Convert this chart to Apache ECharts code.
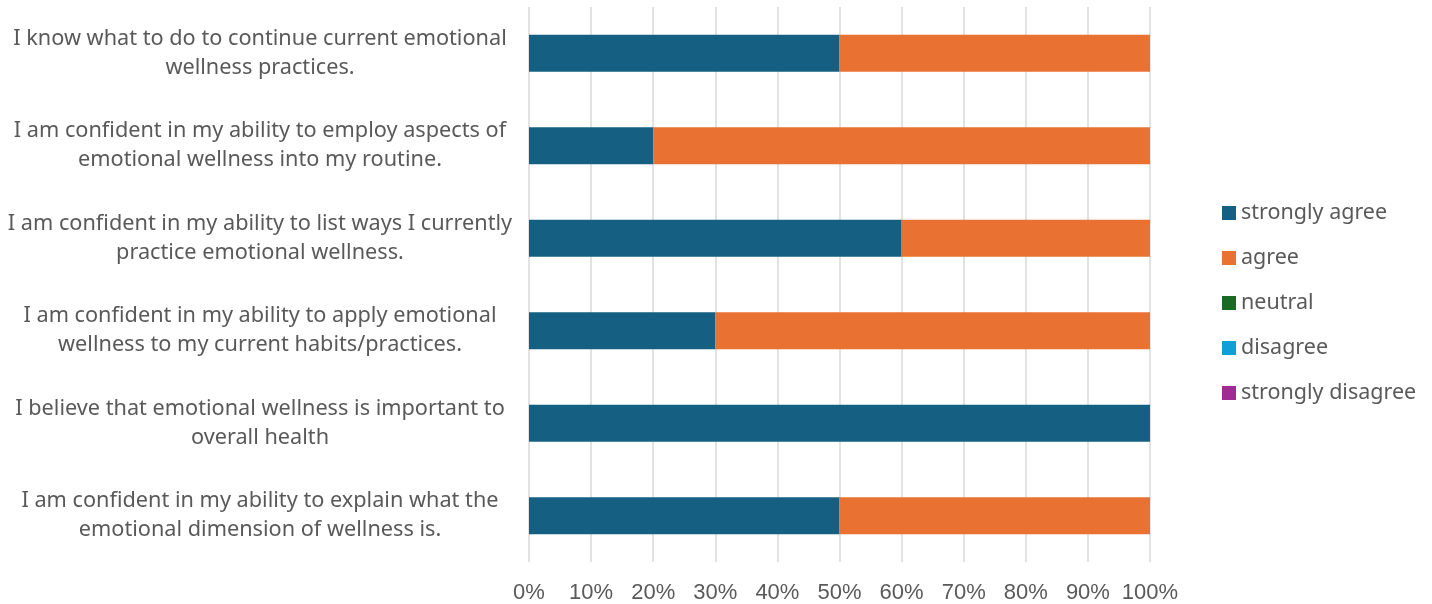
<!DOCTYPE html>
<html>
<head>
<meta charset="utf-8">
<script src="https://cdn.jsdelivr.net/npm/echarts@6/dist/echarts.min.js"></script>
<style>
  html, body { margin: 0; padding: 0; background: #fff; }
  #chart { width: 1432px; height: 604px; }
</style>
</head>
<body>
<div id="chart"></div>
<script>
// Statements, listed top to bottom
const statements = [
  'I know what to do to continue current emotional\nwellness practices.',
  'I am confident in my ability to employ aspects of\nemotional wellness into my routine.',
  'I am confident in my ability to list ways I currently\npractice emotional wellness.',
  'I am confident in my ability to apply emotional\nwellness to my current habits/practices.',
  'I believe that emotional wellness is important to\noverall health',
  'I am confident in my ability to explain what the\nemotional dimension of wellness is.'
];

// Share of responses per statement (percent)
const stronglyAgree    = [50, 20, 60, 30, 100, 50];
const agree            = [50, 80, 40, 70, 0, 50];
const neutral          = [0, 0, 0, 0, 0, 0];
const disagree         = [0, 0, 0, 0, 0, 0];
const stronglyDisagree = [0, 0, 0, 0, 0, 0];

const responseNames = ['strongly agree', 'agree', 'neutral', 'disagree', 'strongly disagree'];
const responseColors = ['#156082', '#E97132', '#196B24', '#0F9ED5', '#A02B93'];
const responseValues = [stronglyAgree, agree, neutral, disagree, stronglyDisagree];

const chart = echarts.init(document.getElementById('chart'));

chart.setOption({
  animation: false,
  color: responseColors,
  grid: { left: 529, right: 282, top: 7, bottom: 41, containLabel: false },
  legend: {
    orient: 'vertical',
    left: 1217,
    top: 197,
    itemWidth: 14,
    itemHeight: 14,
    itemGap: 23,
    icon: 'rect',
    textStyle: { fontFamily: 'Noto Sans', fontSize: 21.5, color: '#595959', padding: [0, 0, 0, 0] },
    data: responseNames
  },
  xAxis: {
    type: 'value',
    min: 0,
    max: 100,
    interval: 10,
    axisLine: { show: false },
    axisTick: { show: false },
    splitLine: { lineStyle: { color: '#d9d9d9', width: 1.5 } },
    axisLabel: {
      formatter: '{value}%',
      fontFamily: 'Liberation Sans',
      fontSize: 22,
      color: '#595959',
      margin: 20
    }
  },
  yAxis: {
    type: 'category',
    inverse: true,
    data: statements,
    axisLine: { show: false },
    axisTick: { show: false },
    axisLabel: {
      align: 'center',
      margin: 269,
      fontFamily: 'Noto Sans',
      fontSize: 21.7,
      lineHeight: 29,
      color: '#595959'
    }
  },
  series: responseNames.map((name, i) => ({
    name: name,
    type: 'bar',
    stack: 'total',
    barWidth: 37,
    data: responseValues[i],
    itemStyle: { color: responseColors[i] }
  }))
});
</script>
</body>
</html>
